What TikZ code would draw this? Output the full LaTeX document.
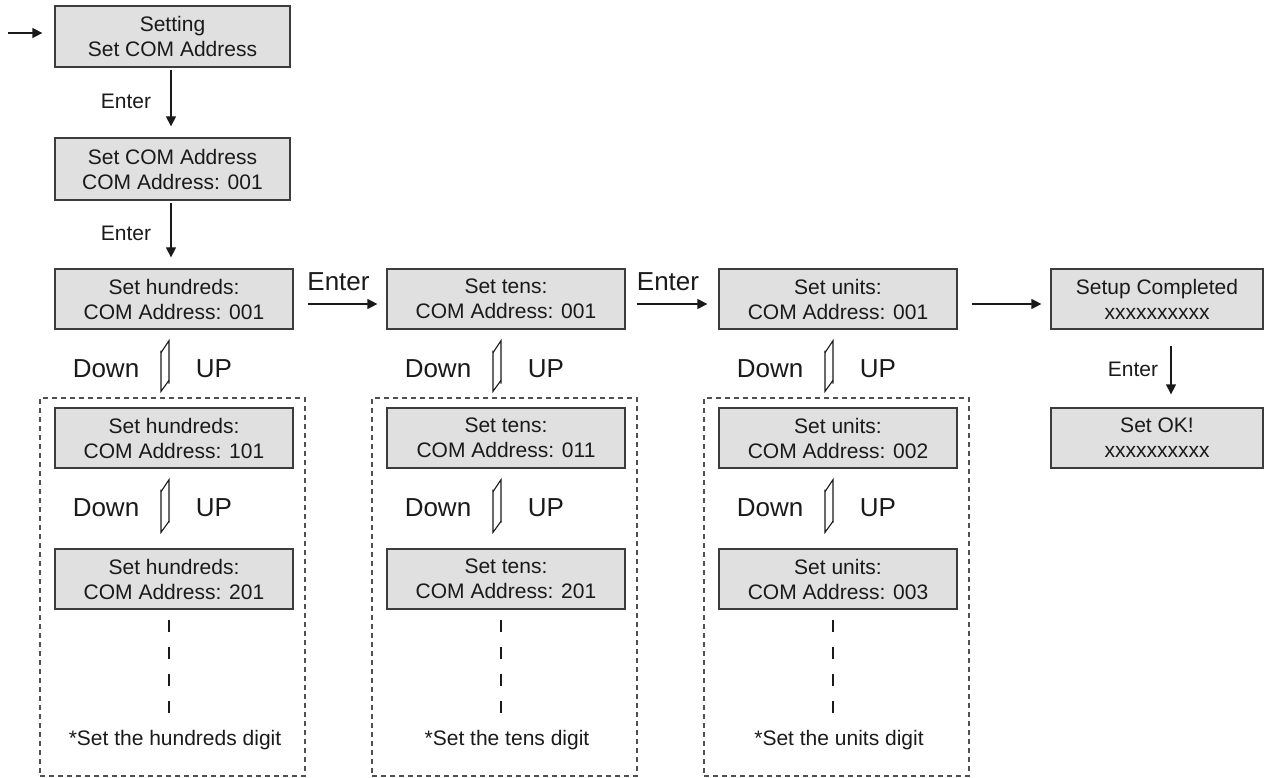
\documentclass[tikz,border=0pt]{standalone}
\usepackage{fontspec}
\setmainfont{Liberation Sans}
\usetikzlibrary{arrows.meta,calc}
\definecolor{boxfill}{HTML}{E0E0E0}
\definecolor{boxline}{HTML}{3C3C3C}
\definecolor{txt}{HTML}{1A1A1A}
\tikzset{
  scr/.style={draw=boxline, line width=1.3pt, fill=boxfill, inner sep=0pt,
    minimum width=238pt, minimum height=60pt, align=center, text=txt,
    font=\fontsize{21}{25}\selectfont},
  grp/.style={draw=boxline!90, line width=1.1pt, dash pattern=on 5pt off 4pt,
    inner sep=0pt, minimum width=265pt, minimum height=378pt},
  lbl/.style={inner sep=0pt, text=txt, font=\fontsize{21}{25}\selectfont},
  biglbl/.style={inner sep=0pt, text=txt, font=\fontsize{26}{30}\selectfont},
  arr/.style={draw=txt, line width=1.3pt, -{Triangle[length=10pt,width=10pt]}},
  harp/.style={draw=txt, line width=1.1pt},
  vdash/.style={draw=txt, line width=1.3pt, dash pattern=on 12pt off 15pt},
}
\begin{document}
\begin{tikzpicture}[x=1pt,y=-1pt]
\useasboundingbox (0,0) rectangle (1264,778);

% top column
\node[scr, minimum width=235pt, minimum height=61pt] (s1) at (172.5,36.5) {Setting\\Set COM Address};
\node[scr, minimum width=235pt, minimum height=62pt] (s2) at (172.5,169) {Set COM Address\\COM Address: 001};
\coordinate (start) at (8,33);
\draw[arr] (start) -- ($(s1.west |- start)+(-12,0)$);
\draw[arr] ($(s1.south)+(-1.5,2)$) -- ($(s2.north)+(-1.5,-11)$);
\node[lbl] (e1) at (126,101.5) {Enter};

% row 3
\node[scr] (h0) at (174,299) {Set hundreds:\\COM Address: 001};
\node[scr] (t0) at (506,299) {Set tens:\\COM Address: 001};
\node[scr] (u0) at (838,299) {Set units:\\COM Address: 001};
\node[scr, minimum width=212pt] (c0) at (1157,299) {Setup Completed\\xxxxxxxxxx};
\node[scr, minimum width=212pt] (ok) at (1157,438) {Set OK!\\xxxxxxxxxx};

\draw[arr] ($(s2.south)+(-1.5,2)$) -- ($(s2.south |- h0.north)+(-1.5,-11)$);
\node[lbl] (e2) at (126,233.5) {Enter};

\draw[arr] ($(h0.east)+(14,5)$) -- ($(t0.west)+(-9,5)$);
\draw[arr] ($(t0.east)+(11,5)$) -- ($(u0.west)+(-11,5)$);
\draw[arr] ($(u0.east)+(14,5)$) -- ($(c0.west)+(-9,5)$);
\node[biglbl] (eh) at (338.5,281.5) {Enter};
\node[biglbl] (et) at (668,281.5) {Enter};
\draw[arr] ($(c0.south)+(14,16)$) -- ($(ok.north)+(14,-13)$);
\node[lbl] (e3) at (1133,369) {Enter};

% columns
\foreach \n/\c in {h/174, t/506, u/838}{
  \node[grp] (g\n) at (\c-1.5,587) {};
}
\node[scr] (h1) at (174,438) {Set hundreds:\\COM Address: 101};
\node[scr] (h2) at (174,579) {Set hundreds:\\COM Address: 201};
\node[scr] (t1) at (506,438) {Set tens:\\COM Address: 011};
\node[scr] (t2) at (506,579) {Set tens:\\COM Address: 201};
\node[scr] (u1) at (838,438) {Set units:\\COM Address: 002};
\node[scr] (u2) at (838,579) {Set units:\\COM Address: 003};

\node[lbl] (fh) at (175,740) {*Set the hundreds digit};
\node[lbl] (ft) at (507,740) {*Set the tens digit};
\node[lbl] (fu) at (839,740) {*Set the units digit};

\foreach \a/\b in {h0/h1, h1/h2, t0/t1, t1/t2, u0/u1, u1/u2}{
  \draw[harp] ($(\a.south)+(-5,54)$) -- ($(\a.south)+(-5,11)$) -- ($(\a.south)+(-13,23)$);
  \draw[harp] ($(\a.south)+(-13,21)$) -- ($(\b.north)+(-13,-16)$) -- ($(\b.north)+(-5,-27)$);
  \node[biglbl] at ($(\a.south)+(-68,39)$) {Down};
  \node[biglbl] at ($(\a.south)+(40,39)$) {UP};
}
\foreach \a in {h2,t2,u2}{
  \coordinate (\a end) at ($(\a.south)+(-5,103)$);
  \draw[vdash] ($(\a.south)+(-5,10)$) -- (\a end);
}
\end{tikzpicture}
\end{document}
